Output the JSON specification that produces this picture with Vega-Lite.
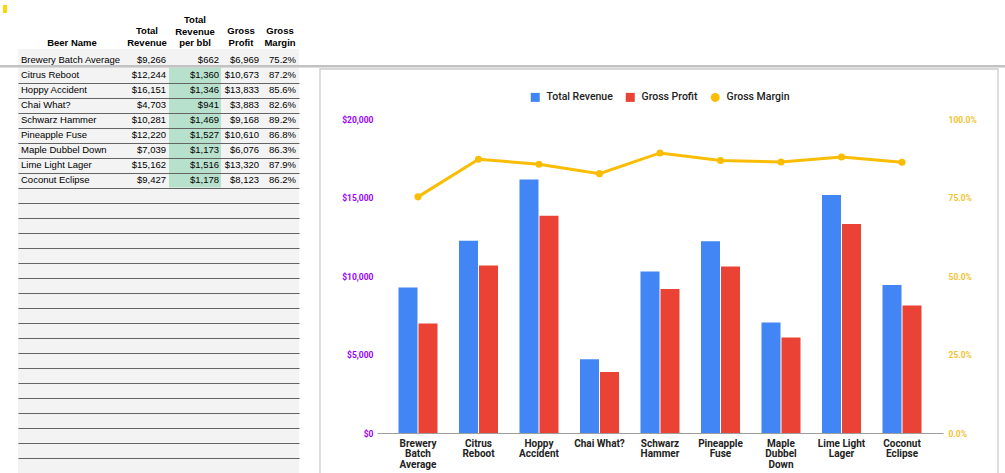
{
  "$schema": "https://vega.github.io/schema/vega-lite/v6.json",
  "width": 1005,
  "height": 473,
  "padding": 0,
  "autosize": {"type": "none"},
  "background": "white",
  "config": {"view": {"stroke": null}},
  "datasets": {
    "beers": [
      {"beer": "Brewery Batch Average", "revenue": 9266, "perbbl": 662, "profit": 6969, "margin": 0.752},
      {"beer": "Citrus Reboot", "revenue": 12244, "perbbl": 1360, "profit": 10673, "margin": 0.872},
      {"beer": "Hoppy Accident", "revenue": 16151, "perbbl": 1346, "profit": 13833, "margin": 0.856},
      {"beer": "Chai What?", "revenue": 4703, "perbbl": 941, "profit": 3883, "margin": 0.826},
      {"beer": "Schwarz Hammer", "revenue": 10281, "perbbl": 1469, "profit": 9168, "margin": 0.892},
      {"beer": "Pineapple Fuse", "revenue": 12220, "perbbl": 1527, "profit": 10610, "margin": 0.868},
      {"beer": "Maple Dubbel Down", "revenue": 7039, "perbbl": 1173, "profit": 6076, "margin": 0.863},
      {"beer": "Lime Light Lager", "revenue": 15162, "perbbl": 1516, "profit": 13320, "margin": 0.879},
      {"beer": "Coconut Eclipse", "revenue": 9427, "perbbl": 1178, "profit": 8123, "margin": 0.862}
    ]
  },
  "layer": [
    {
      "layer": [
        {
          "data": {"values": [{}]},
          "mark": {"type": "rect", "fill": "#f3f3f3"},
          "encoding": {
            "x": {"datum": 18, "type": "quantitative", "scale": {"domain": [18, 299], "range": [18, 299], "nice": false, "zero": false}, "axis": null},
            "x2": {"datum": 299},
            "y": {"datum": 0.27, "type": "quantitative", "scale": {"domain": [-3, 28.5333], "reverse": true, "nice": false, "zero": false},
              "axis": {"orient": "left", "values": [2.5, 3.5, 4.5, 5.5, 6.5, 7.5, 8.5, 9.5, 10.5, 11.5, 12.5, 13.5, 14.5, 15.5, 16.5, 17.5, 18.5, 19.5, 20.5, 21.5, 22.5, 23.5, 24.5, 25.5, 26.5, 27.5, 28.5],
                "tickCount": 200, "grid": true, "gridColor": "#646464", "gridWidth": 1.2, "labels": false, "ticks": false, "domain": false, "title": null, "zindex": 1}},
            "y2": {"datum": 29.5}
          }
        },
        {
          "data": {"values": [{}]},
          "mark": {"type": "rect", "fill": "#ffd600"},
          "encoding": {
            "x": {"datum": 3, "type": "quantitative", "axis": null},
            "x2": {"datum": 7},
            "y": {"datum": -2.667, "type": "quantitative"},
            "y2": {"datum": -2.133}
          }
        },
        {
          "data": {"values": [{}]},
          "mark": {"type": "rect", "fill": "#b7e1cd"},
          "encoding": {
            "x": {"datum": 169, "type": "quantitative", "axis": null},
            "x2": {"datum": 221},
            "y": {"datum": 1.5, "type": "quantitative"},
            "y2": {"datum": 9.5}
          }
        },
        {
          "data": {"values": [{}]},
          "mark": {"type": "rule", "stroke": "#c2c2c2", "strokeWidth": 2.5},
          "encoding": {
            "x": {"datum": 0, "type": "quantitative", "axis": null},
            "x2": {"datum": 1005},
            "y": {"datum": 1.42, "type": "quantitative"}
          }
        },
        {
          "data": {"values": [{}]},
          "mark": {"type": "rect", "fill": null, "stroke": "#cccccc", "strokeWidth": 1.3},
          "encoding": {
            "x": {"datum": 320, "type": "quantitative", "axis": null},
            "x2": {"datum": 998},
            "y": {"datum": 1.6, "type": "quantitative"},
            "y2": {"datum": 30}
          }
        },
        {
          "data": {"values": [{}]},
          "mark": {"type": "text", "font": "Liberation Sans", "fontWeight": "bold", "fontSize": 9.5, "align": "center", "baseline": "bottom", "lineHeight": 11.5, "color": "#000000"},
          "encoding": {
            "x": {"datum": 72, "type": "quantitative", "axis": null},
            "y": {"datum": 0.2, "type": "quantitative"},
            "text": {"value": ["Beer Name"]}
          }
        },
        {
          "data": {"values": [{}]},
          "mark": {"type": "text", "font": "Liberation Sans", "fontWeight": "bold", "fontSize": 9.5, "align": "center", "baseline": "bottom", "lineHeight": 11.5, "color": "#000000"},
          "encoding": {
            "x": {"datum": 147, "type": "quantitative", "axis": null},
            "y": {"datum": -0.567, "type": "quantitative"},
            "text": {"value": ["Total", "Revenue"]}
          }
        },
        {
          "data": {"values": [{}]},
          "mark": {"type": "text", "font": "Liberation Sans", "fontWeight": "bold", "fontSize": 9.5, "align": "center", "baseline": "bottom", "lineHeight": 11.5, "color": "#000000"},
          "encoding": {
            "x": {"datum": 195, "type": "quantitative", "axis": null},
            "y": {"datum": -1.333, "type": "quantitative"},
            "text": {"value": ["Total", "Revenue", "per bbl"]}
          }
        },
        {
          "data": {"values": [{}]},
          "mark": {"type": "text", "font": "Liberation Sans", "fontWeight": "bold", "fontSize": 9.5, "align": "center", "baseline": "bottom", "lineHeight": 11.5, "color": "#000000"},
          "encoding": {
            "x": {"datum": 241, "type": "quantitative", "axis": null},
            "y": {"datum": -0.567, "type": "quantitative"},
            "text": {"value": ["Gross", "Profit"]}
          }
        },
        {
          "data": {"values": [{}]},
          "mark": {"type": "text", "font": "Liberation Sans", "fontWeight": "bold", "fontSize": 9.5, "align": "center", "baseline": "bottom", "lineHeight": 11.5, "color": "#000000"},
          "encoding": {
            "x": {"datum": 280, "type": "quantitative", "axis": null},
            "y": {"datum": -0.567, "type": "quantitative"},
            "text": {"value": ["Gross", "Margin"]}
          }
        },
        {
          "data": {"name": "beers"},
          "transform": [{"window": [{"op": "row_number", "as": "row"}]}],
          "layer": [
            {
              "mark": {"type": "text", "font": "Liberation Sans", "fontSize": 9.5, "align": "left", "baseline": "middle", "color": "#000000"},
              "encoding": {
                "x": {"datum": 21, "type": "quantitative", "axis": null},
                "y": {"field": "row", "type": "quantitative"},
                "text": {"field": "beer"}
              }
            },
            {
              "mark": {"type": "text", "font": "Liberation Sans", "fontSize": 9.5, "align": "right", "baseline": "middle", "color": "#000000"},
              "encoding": {
                "x": {"datum": 166, "type": "quantitative", "axis": null},
                "y": {"field": "row", "type": "quantitative"},
                "text": {"field": "revenue", "format": "$,.0f"}
              }
            },
            {
              "mark": {"type": "text", "font": "Liberation Sans", "fontSize": 9.5, "align": "right", "baseline": "middle", "color": "#000000"},
              "encoding": {
                "x": {"datum": 219, "type": "quantitative", "axis": null},
                "y": {"field": "row", "type": "quantitative"},
                "text": {"field": "perbbl", "format": "$,.0f"}
              }
            },
            {
              "mark": {"type": "text", "font": "Liberation Sans", "fontSize": 9.5, "align": "right", "baseline": "middle", "color": "#000000"},
              "encoding": {
                "x": {"datum": 259, "type": "quantitative", "axis": null},
                "y": {"field": "row", "type": "quantitative"},
                "text": {"field": "profit", "format": "$,.0f"}
              }
            },
            {
              "mark": {"type": "text", "font": "Liberation Sans", "fontSize": 9.5, "align": "right", "baseline": "middle", "color": "#000000"},
              "encoding": {
                "x": {"datum": 296, "type": "quantitative", "axis": null},
                "y": {"field": "row", "type": "quantitative"},
                "text": {"field": "margin", "format": ".1%"}
              }
            }
          ]
        }
      ]
    },
    {
      "data": {"name": "beers"},
      "layer": [
        {
          "transform": [{"fold": ["revenue", "profit"], "as": ["series", "value"]}],
          "mark": {"type": "bar"},
          "encoding": {
            "x": {"field": "beer", "type": "nominal", "sort": null,
              "scale": {"range": [377, 943], "paddingInner": 0.355, "paddingOuter": 0.355},
              "axis": {"orient": "bottom", "offset": -40, "title": null, "ticks": false, "domainColor": "#9e9e9e", "domainWidth": 1.2, "labelAngle": 0,
                "labelFont": "Roboto", "labelFontWeight": "bold", "labelFontSize": 10, "labelColor": "#222222", "labelLineHeight": 10.5, "labelPadding": 5, "labelBaseline": "top", "zindex": 1,
                "labelExpr": "datum.value == 'Chai What?' ? datum.value : datum.value == 'Lime Light Lager' ? ['Lime Light', 'Lager'] : split(datum.value, ' ')"}},
            "xOffset": {"field": "series", "type": "nominal", "sort": ["revenue", "profit"], "scale": {"paddingInner": 0.05}},
            "y": {"field": "value", "type": "quantitative",
              "scale": {"domain": [0, 20000], "range": [433, 119], "nice": false},
              "axis": {"orient": "left", "offset": -377, "values": [0, 5000, 10000, 15000, 20000], "format": "$,.0f", "title": null, "ticks": false, "domain": false,
                "labelColor": "#9900ff", "labelFont": "Roboto", "labelFontWeight": "bold", "labelFontSize": 8.5, "labelPadding": 4, "gridColor": "#e0e0e0"}},
            "color": {"field": "series", "type": "nominal",
              "scale": {"domain": ["revenue", "profit", "margin"], "range": ["#4285f4", "#ea4335", "#fbbc04"]},
              "legend": {"title": null, "orient": "none", "legendX": 530, "legendY": 92, "direction": "horizontal", "symbolType": "square", "symbolSize": 81,
                "labelFont": "Roboto", "labelFontSize": 10.5, "labelFontWeight": 500, "labelColor": "#222222", "columnPadding": 12, "labelOffset": 6,
                "labelExpr": "datum.value == 'revenue' ? 'Total Revenue' : datum.value == 'profit' ? 'Gross Profit' : 'Gross Margin'",
                "encode": {"symbols": {"update": {"shape": {"signal": "datum.value == 'margin' ? 'circle' : 'square'"}, "fill": {"scale": "color", "field": "value"}, "strokeWidth": {"value": 0}, "opacity": {"value": 1}}}}}
            }
          }
        },
        {
          "mark": {"type": "line", "strokeWidth": 3, "point": {"filled": true, "size": 50}},
          "encoding": {
            "x": {"field": "beer", "type": "nominal", "sort": null},
            "y": {"field": "margin", "type": "quantitative",
              "scale": {"domain": [0, 1], "range": [433, 119], "nice": false},
              "axis": {"orient": "right", "offset": -62, "values": [0, 0.25, 0.5, 0.75, 1], "format": ".1%", "title": null, "ticks": false, "domain": false, "grid": false,
                "labelColor": "#f1c232", "labelFont": "Roboto", "labelFontWeight": "bold", "labelFontSize": 8.5, "labelPadding": 5}},
            "color": {"datum": "margin", "type": "nominal"}
          }
        }
      ],
      "resolve": {"scale": {"y": "independent"}}
    }
  ],
  "resolve": {"scale": {"x": "independent", "y": "independent"}}
}
